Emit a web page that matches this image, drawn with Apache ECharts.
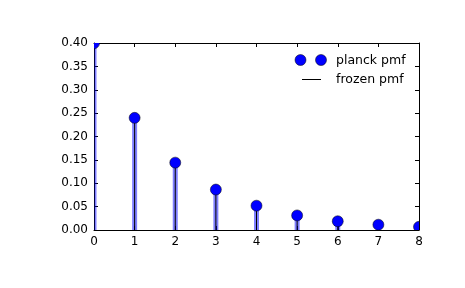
<!DOCTYPE html>
<html><head><meta charset="utf-8">
<script src="https://cdn.jsdelivr.net/npm/echarts@6/dist/echarts.min.js"></script>
<style>html,body{margin:0;padding:0;background:#fff}#c{width:465px;height:288px}</style>
</head><body><div id="c"></div>
<script>
var ks = [0, 1, 2, 3, 4, 5, 6, 7, 8];
var pmf = [0.3995, 0.2399, 0.1441, 0.0865, 0.0520, 0.0312, 0.0187, 0.0113, 0.0068];
var xTicks = [0, 1, 2, 3, 4, 5, 6, 7, 8];
var yTicks = [0.00, 0.05, 0.10, 0.15, 0.20, 0.25, 0.30, 0.35, 0.40];
var legendNames = ['planck pmf', 'frozen pmf'];

var pts = ks.map(function (k, i) { return [k, pmf[i]]; });
var font = 'DejaVu Sans';
var chart = echarts.init(document.getElementById('c'), null, {renderer: 'canvas'});
var axisCommon = {
  axisLine: {show: true, onZero: false, lineStyle: {color: '#000', width: 1}},
  axisTick: {show: true, inside: true, length: 4, lineStyle: {color: '#000', width: 1}},
  splitLine: {show: false}
};
chart.setOption({
  animation: false,
  grid: {left: 94, right: 46, top: 43, bottom: 58, show: false},
  xAxis: [
    Object.assign({type: 'value', min: 0, max: 8, interval: 1, position: 'bottom',
      axisLabel: {color: '#000', fontFamily: font, fontSize: 12, margin: 6,
        formatter: function (v) { return xTicks.indexOf(v) >= 0 ? String(v) : ''; }}}, axisCommon),
    Object.assign({type: 'value', min: 0, max: 8, interval: 1, position: 'top',
      axisLabel: {show: false}}, axisCommon)
  ],
  yAxis: [
    Object.assign({type: 'value', min: 0, max: 0.4, interval: 0.05, position: 'left',
      axisLabel: {color: '#000', fontFamily: font, fontSize: 12, margin: 6,
        formatter: function (v) { return v.toFixed(2); }}}, axisCommon),
    Object.assign({type: 'value', min: 0, max: 0.4, interval: 0.05, position: 'right',
      axisLabel: {show: false}}, axisCommon)
  ],
  series: [
    {type: 'custom', xAxisIndex: 0, yAxisIndex: 0, clip: true, z: 1,
     data: pts,
     renderItem: function (params, api) {
       var p0 = api.coord([api.value(0), 0]);
       var p1 = api.coord([api.value(0), api.value(1)]);
       return {type: 'group', children: [
         {type: 'line', shape: {x1: p0[0], y1: p0[1], x2: p1[0], y2: p1[1]},
          style: {stroke: 'rgba(0,0,255,0.5)', lineWidth: 5}},
         {type: 'line', shape: {x1: p0[0], y1: p0[1], x2: p1[0], y2: p1[1]},
          style: {stroke: '#000', lineWidth: 1}}
       ]};
     }},
    {type: 'custom', xAxisIndex: 0, yAxisIndex: 0, clip: true, z: 2,
     data: pts,
     renderItem: function (params, api) {
       var p = api.coord([api.value(0), api.value(1)]);
       return {type: 'circle', shape: {cx: p[0], cy: p[1], r: 5.5},
         style: {fill: '#0000ff', stroke: '#000', lineWidth: 0.5}};
     }}
  ],
  graphic: [
    {type: 'circle', shape: {cx: 300.5, cy: 60, r: 5.5}, style: {fill: '#0000ff', stroke: '#000', lineWidth: 0.5}, z: 10},
    {type: 'circle', shape: {cx: 321, cy: 60, r: 5.5}, style: {fill: '#0000ff', stroke: '#000', lineWidth: 0.5}, z: 10},
    {type: 'text', style: {x: 336, y: 61, text: legendNames[0], fill: '#000', font: '12.5px "DejaVu Sans"', textVerticalAlign: 'middle'}, z: 10},
    {type: 'line', shape: {x1: 302, y1: 79.5, x2: 321, y2: 79.5}, style: {stroke: '#000', lineWidth: 1}, z: 10},
    {type: 'text', style: {x: 336, y: 79.5, text: legendNames[1], fill: '#000', font: '12.5px "DejaVu Sans"', textVerticalAlign: 'middle'}, z: 10}
  ]
});
</script></body></html>
